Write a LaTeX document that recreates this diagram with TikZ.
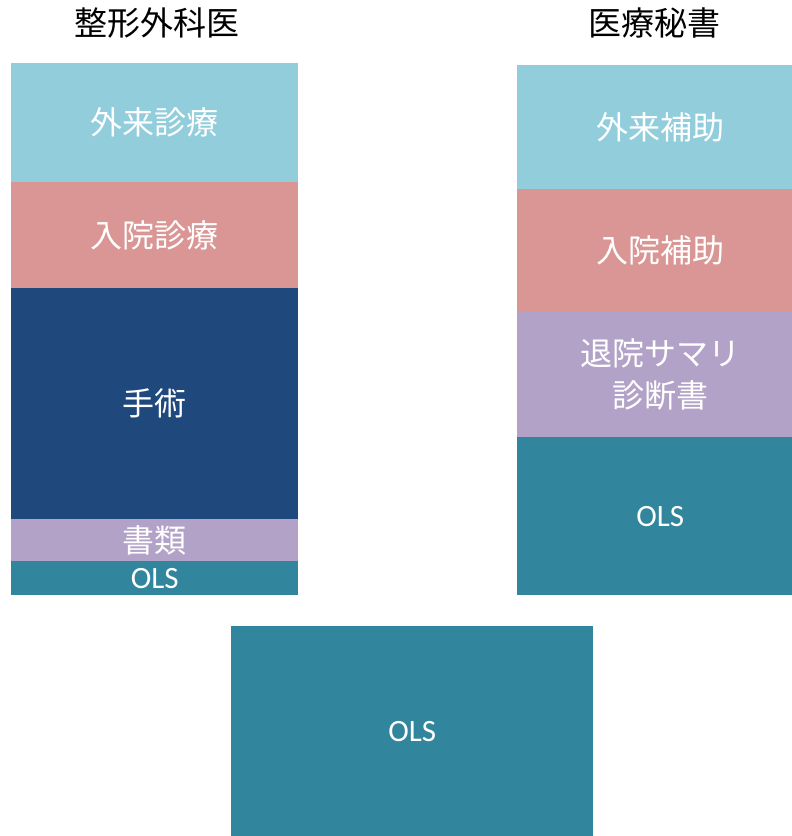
\documentclass[tikz,border=0pt]{standalone}
\usepackage{fontspec}
\newfontfamily\jp{Noto Sans CJK JP}
\newfontfamily\lat{Carlito}
\definecolor{cblue}{HTML}{92CDDC}
\definecolor{cpink}{HTML}{D99694}
\definecolor{cnavy}{HTML}{1F497D}
\definecolor{clav}{HTML}{B3A2C7}
\definecolor{cteal}{HTML}{31859C}
\tikzset{
  blk/.style={draw=none, inner sep=0pt, anchor=north west, text=white, align=center,
    font=\jp\fontsize{32}{42}\selectfont},
  olsblk/.style={blk, font=\lat\fontsize{31}{37}\selectfont},
  ttl/.style={inner sep=0pt, text=black, font=\jp\fontsize{33}{38}\selectfont}
}
\begin{document}
\begin{tikzpicture}[x=1pt, y=-1pt]
\useasboundingbox (0,0) rectangle (792,836);
\begin{scope}
\clip (0,0) rectangle (792,836);
\node[ttl] (t1) at (157,23) {整形外科医};
\node[ttl] (t2) at (654,23) {医療秘書};
% left column
\node[blk, fill=cblue, minimum width=287pt, minimum height=119pt] (l1) at (11,63) {外来診療};
\node[blk, fill=cpink, minimum width=287pt, minimum height=106pt] (l2) at (11,182) {入院診療};
\node[blk, fill=cnavy, minimum width=287pt, minimum height=231pt] (l3) at (11,288) {手術};
\node[blk, fill=clav, minimum width=287pt, minimum height=42pt] (l4) at (11,519) {書類};
\node[olsblk, fill=cteal, minimum width=287pt, minimum height=34pt] (l5) at (11,561) {OLS};
% right column (extends past the right edge)
\node[blk, fill=cblue, minimum width=286pt, minimum height=124pt] (r1) at (517,65) {外来補助};
\node[blk, fill=cpink, minimum width=286pt, minimum height=123pt] (r2) at (517,189) {入院補助};
\node[blk, fill=clav, minimum width=286pt, minimum height=125pt] (r3) at (517,312) {退院サマリ\\診断書};
\node[olsblk, fill=cteal, minimum width=286pt, minimum height=158pt] (r4) at (517,437) {OLS};
% bottom
\node[olsblk, fill=cteal, minimum width=362pt, minimum height=210pt] (b1) at (231,626) {OLS};
\end{scope}
\end{tikzpicture}
\end{document}
